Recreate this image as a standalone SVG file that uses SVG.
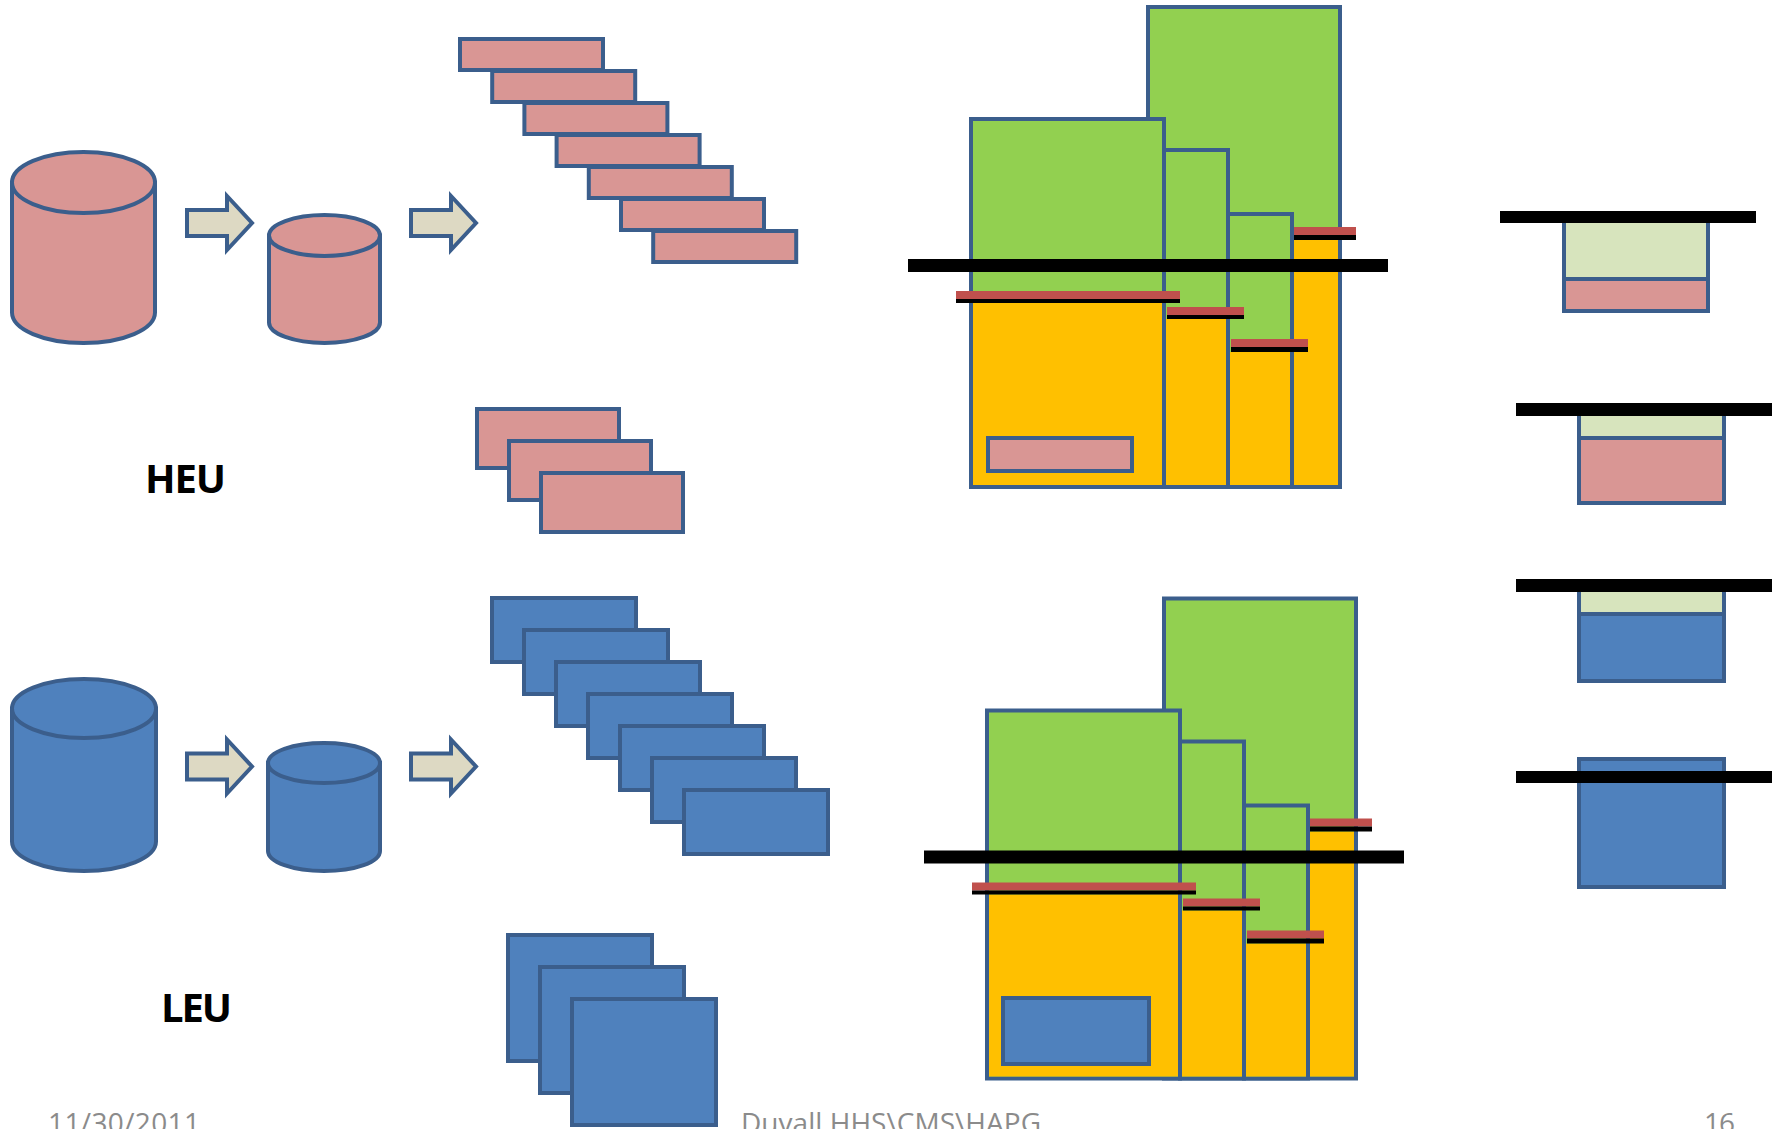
<svg xmlns="http://www.w3.org/2000/svg" xmlns:xlink="http://www.w3.org/1999/xlink" width="1781" height="1129" viewBox="0 0 1781 1129">
  <style>
    .ol { stroke: #3B5E8C; stroke-width: 4; }
    .pink { fill: #D99694; }
    .blue { fill: #4F81BD; }
    .green { fill: #92D050; }
    .yellow { fill: #FFC000; }
    .pale { fill: #D7E4BD; }
    .red { fill: #C0504D; }
    .blk { fill: #000000; }
    .arrow { fill: #DDD9C3; stroke: #3B5E8C; stroke-width: 4; stroke-linejoin: miter; }
    .label { font-family: "Open Sans", "Liberation Sans", sans-serif; font-weight: 700; font-size: 40px; fill: #000000; }
    .foot { font-family: "Open Sans", "Liberation Sans", sans-serif; font-size: 28px; fill: #8B8B8B; }
  </style>
  <defs>
    <path id="blockArrow" d="M187,210 H227 V196 L252,223 L227,250 V236 H187 Z"/>
  </defs>
  <rect width="1781" height="1129" fill="#FFFFFF"/>

  <!-- HEU row: supply cylinders -->
  <g id="heu-cylinder-large">
    <path class="pink ol" d="M12,182.5 V312.5 A71.5,30.5 0 0 0 155,312.5 V182.5 Z"/>
    <ellipse class="pink ol" cx="83.5" cy="182.5" rx="71.5" ry="30.5"/>
  </g>
  <g id="heu-cylinder-small">
    <path class="pink ol" d="M269,235.5 V322.5 A55.5,20.5 0 0 0 380,322.5 V235.5 Z"/>
    <ellipse class="pink ol" cx="324.5" cy="235.5" rx="55.5" ry="20.5"/>
  </g>

  <!-- LEU row: supply cylinders -->
  <g id="leu-cylinder-large">
    <path class="blue ol" d="M12,708.5 V841.5 A72,29.5 0 0 0 156,841.5 V708.5 Z"/>
    <ellipse class="blue ol" cx="84" cy="708.5" rx="72" ry="29.5"/>
  </g>
  <g id="leu-cylinder-small">
    <path class="blue ol" d="M268,763 V851 A56,20 0 0 0 380,851 V763 Z"/>
    <ellipse class="blue ol" cx="324" cy="763" rx="56" ry="20"/>
  </g>

  <!-- flow arrows -->
  <g id="connectors">
    <use xlink:href="#blockArrow" class="arrow"/>
    <use xlink:href="#blockArrow" class="arrow" transform="translate(224,0)"/>
    <use xlink:href="#blockArrow" class="arrow" transform="translate(0,543.5)"/>
    <use xlink:href="#blockArrow" class="arrow" transform="translate(224,543.5)"/>
  </g>

  <!-- labels -->
  <g id="heu-label">
    <text class="label" x="145" y="493" textLength="81">HEU</text>
  </g>
  <g id="leu-label">
    <text class="label" x="161" y="1022" textLength="71">LEU</text>
  </g>

  <!-- HEU staircase of thin plates -->
  <g id="heu-plates-stair">
    <rect class="pink ol" x="460" y="39" width="143" height="31"/>
    <rect class="pink ol" x="492.2" y="71" width="143" height="31"/>
    <rect class="pink ol" x="524.4" y="103" width="143" height="31"/>
    <rect class="pink ol" x="556.6" y="135" width="143" height="31"/>
    <rect class="pink ol" x="588.8" y="167" width="143" height="31"/>
    <rect class="pink ol" x="621" y="199" width="143" height="31"/>
    <rect class="pink ol" x="653.2" y="231" width="143" height="31"/>
  </g>

  <!-- HEU short stack -->
  <g id="heu-plates-stack">
    <rect class="pink ol" x="477" y="409" width="142" height="59"/>
    <rect class="pink ol" x="509" y="441" width="142" height="59"/>
    <rect class="pink ol" x="541" y="473" width="142" height="59"/>
  </g>

  <!-- LEU staircase of thick plates -->
  <g id="leu-plates-stair">
    <rect class="blue ol" x="492" y="598" width="144" height="64"/>
    <rect class="blue ol" x="524" y="630" width="144" height="64"/>
    <rect class="blue ol" x="556" y="662" width="144" height="64"/>
    <rect class="blue ol" x="588" y="694" width="144" height="64"/>
    <rect class="blue ol" x="620" y="726" width="144" height="64"/>
    <rect class="blue ol" x="652" y="758" width="144" height="64"/>
    <rect class="blue ol" x="684" y="790" width="144" height="64"/>
  </g>

  <!-- LEU short stack -->
  <g id="leu-plates-stack">
    <rect class="blue ol" x="508" y="935" width="144" height="126"/>
    <rect class="blue ol" x="540" y="967" width="144" height="126"/>
    <rect class="blue ol" x="572" y="999" width="144" height="126"/>
  </g>

  <!-- HEU core: four columns with fill levels -->
  <g id="heu-core">
    <rect class="green ol" x="1148" y="7" width="192" height="480"/>
    <rect class="green ol" x="1228" y="214" width="64" height="273"/>
    <rect class="green ol" x="1164" y="150" width="64" height="337"/>
    <rect class="green ol" x="971" y="119" width="193" height="368"/>
    <rect class="yellow" x="973" y="303" width="189" height="182"/>
    <rect class="yellow" x="1166" y="319" width="60" height="166"/>
    <rect class="yellow" x="1230" y="352" width="60" height="133"/>
    <rect class="yellow" x="1294" y="240" width="44" height="245"/>
    <rect class="red" x="956" y="291" width="224" height="8"/>
    <rect class="blk" x="956" y="299" width="224" height="4"/>
    <rect class="red" x="1167" y="307" width="77" height="8"/>
    <rect class="blk" x="1167" y="315" width="77" height="4"/>
    <rect class="red" x="1231" y="339" width="77" height="8"/>
    <rect class="blk" x="1231" y="347" width="77" height="5"/>
    <rect class="red" x="1294" y="227" width="62" height="8"/>
    <rect class="blk" x="1294" y="235" width="62" height="5"/>
    <rect class="pink ol" x="988" y="438" width="144" height="33" stroke-width="5"/>
    <rect class="blk" x="908" y="259" width="480" height="13"/>
  </g>

  <!-- LEU core: same layout, shifted -->
  <g id="leu-core" transform="translate(16,591.5)">
    <rect class="green ol" x="1148" y="7" width="192" height="480"/>
    <rect class="green ol" x="1228" y="214" width="64" height="273"/>
    <rect class="green ol" x="1164" y="150" width="64" height="337"/>
    <rect class="green ol" x="971" y="119" width="193" height="368"/>
    <rect class="yellow" x="973" y="303" width="189" height="182"/>
    <rect class="yellow" x="1166" y="319" width="60" height="166"/>
    <rect class="yellow" x="1230" y="352" width="60" height="133"/>
    <rect class="yellow" x="1294" y="240" width="44" height="245"/>
    <rect class="red" x="956" y="291" width="224" height="8"/>
    <rect class="blk" x="956" y="299" width="224" height="4"/>
    <rect class="red" x="1167" y="307" width="77" height="8"/>
    <rect class="blk" x="1167" y="315" width="77" height="4"/>
    <rect class="red" x="1231" y="339" width="77" height="8"/>
    <rect class="blk" x="1231" y="347" width="77" height="5"/>
    <rect class="red" x="1294" y="227" width="62" height="8"/>
    <rect class="blk" x="1294" y="235" width="62" height="5"/>
    <rect class="blue ol" x="987" y="406.5" width="146" height="66" stroke-width="5"/>
    <rect class="blk" x="908" y="259" width="480" height="13"/>
  </g>

  <!-- level gauges -->
  <g id="gauge-heu-1">
    <rect class="pink ol" x="1564" y="219" width="144" height="92"/>
    <rect class="pale ol" x="1564" y="219" width="144" height="60"/>
    <rect class="blk" x="1500" y="211" width="256" height="12"/>
  </g>
  <g id="gauge-heu-2">
    <rect class="pink ol" x="1579" y="412" width="145" height="91"/>
    <rect class="pale ol" x="1579" y="412" width="145" height="26"/>
    <rect class="blk" x="1516" y="403" width="256" height="13"/>
  </g>
  <g id="gauge-leu-1">
    <rect class="blue ol" x="1579" y="588" width="145" height="93"/>
    <rect class="pale ol" x="1579" y="588" width="145" height="26"/>
    <rect class="blk" x="1516" y="579" width="256" height="13"/>
  </g>
  <g id="gauge-leu-2">
    <rect class="blue ol" x="1579" y="759" width="145" height="128"/>
    <rect class="blk" x="1516" y="771" width="256" height="12"/>
  </g>

  <!-- footer -->
  <g id="footer">
    <text class="foot" x="48" y="1133" textLength="152">11/30/2011</text>
    <text class="foot" x="741" y="1133" textLength="300">Duvall HHS\CMS\HAPG</text>
    <text class="foot" x="1704" y="1133" textLength="31">16</text>
  </g>
</svg>
